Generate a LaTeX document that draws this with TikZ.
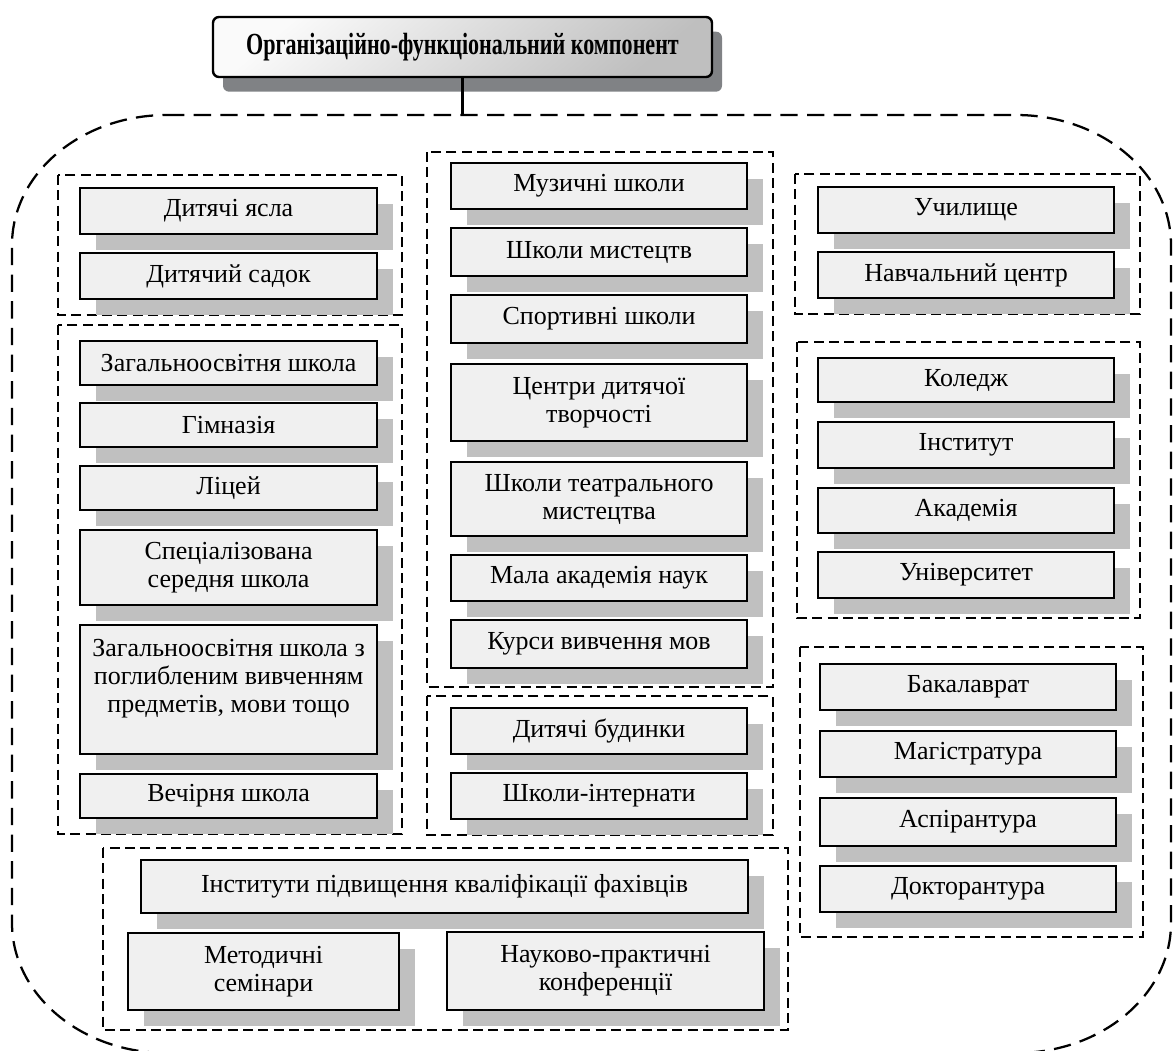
\documentclass[tikz,border=0pt]{standalone}
\usepackage{fontspec}
\setmainfont{Liberation Serif}
\newfontfamily\headfont[FakeStretch=0.72]{Liberation Serif}
\usetikzlibrary{shadows}

\definecolor{boxfill}{RGB}{240,240,240}
\definecolor{boxshade}{RGB}{192,192,192}
\definecolor{headshade}{RGB}{128,130,133}

\tikzset{
  unit/.style={draw, line width=1.6pt, fill=boxfill, anchor=north west, inner sep=0.75pt, align=center,
    font=\fontsize{19.5}{21}\selectfont, minimum height=34.5pt,
    general shadow={fill=boxshade, shadow xshift=12pt, shadow yshift=-12pt}},
  unitl/.style={unit, minimum width=222.75pt},
  unitm/.style={unit, minimum width=222pt},
  group/.style={line width=1.3pt, dash pattern=on 7.5pt off 4pt},
  outline/.style={line width=1.7pt, dash pattern=on 13pt off 7pt},
  head/.style={draw, line width=1.8pt, rounded corners=4.5pt, minimum width=374.25pt, minimum height=45pt,
    top color=gray!4, bottom color=gray!50, shading angle=40,
    font=\headfont\fontsize{23}{25}\selectfont\bfseries,
    general shadow={fill=headshade, shadow xshift=7.5pt, shadow yshift=-11pt}}
}

\begin{document}
\begin{tikzpicture}[x=0.75pt,y=0.75pt,yscale=-1,xscale=1]
\useasboundingbox (0,0) rectangle (1173,1050);

%Shape: Rounded Rectangle
\draw[outline] (167,115) -- (1016,115) .. controls (1101.6,115) and (1171,173.2) .. (1171,245) -- (1171,923) .. controls (1171,994.8) and (1101.6,1053) .. (1016,1053) -- (167,1053) .. controls (81.4,1053) and (12,994.8) .. (12,923) -- (12,245) .. controls (12,173.2) and (81.4,115) .. (167,115) -- cycle ;
\coordinate (outtop) at (462.5,115);

%Shape: Rectangle
\draw[group] (58,175) rectangle (402,315) ;
\draw[group] (58,325) rectangle (402,834) ;
\draw[group] (427,152) rectangle (773,687) ;
\draw[group] (427,696) rectangle (773,835) ;
\draw[group] (795,174) rectangle (1140,314) ;
\draw[group] (797,342) rectangle (1140,618) ;
\draw[group] (800,647) rectangle (1143,937) ;
\draw[group] (103,848) rectangle (788,1030) ;

% Text Node
\node[head] (comp) at (462.5,47) {Організаційно-функціональний компонент};
%Straight Lines
\draw[line width=1.9pt] (comp.south) -- (outtop) ;

% Text Node
\node[unitl] (yasla) at (79,187) {Дитячі ясла};
\node[unitl] (sadok) at (79,252) {Дитячий садок};
\node[unitl, minimum height=33pt] (zosh) at (79,340) {Загальноосвітня школа};
\node[unitl, minimum height=33pt] (gimn) at (79,402) {Гімназія};
\node[unitl, minimum height=33pt] (litsei) at (79,465) {Ліцей};
\node[unitl, minimum height=56.25pt] (spets) at (79,529) {Спеціалізована\\середня школа};
\node[unitl, minimum height=96.75pt] (poglyb) at (79,624) {Загальноосвітня школа з\\поглибленим вивченням\\предметів, мови тощо\\\mbox{}};
\node[unitl, minimum height=33pt] (vechir) at (79,773) {Вечірня школа};

% Text Node
\node[unitm] (muz) at (450,162) {Музичні школи};
\node[unitm, minimum height=36pt] (myst) at (450,227) {Школи мистецтв};
\node[unitm, minimum height=36pt] (sport) at (450,294) {Спортивні школи};
\node[unitm, minimum height=57.75pt] (tsentr) at (450,363) {Центри дитячої\\творчості};
\node[unitm, minimum height=55.5pt] (teatr) at (450,461) {Школи театрального\\мистецтва};
\node[unitm] (mala) at (450,554) {Мала академія наук};
\node[unitm, minimum height=36pt] (kursy) at (450,619) {Курси вивчення мов};
\node[unitm] (budynky) at (450,707) {Дитячі будинки};
\node[unitm] (internaty) at (450,772) {Школи-інтернати};

% Text Node
\node[unitm] (uchyl) at (817,186) {Училище};
\node[unitm] (navch) at (817,251) {Навчальний центр};
\node[unitm, minimum height=33pt] (koledzh) at (817,357) {Коледж};
\node[unitm] (instyt) at (817,421) {Інститут};
\node[unitm, minimum height=33.75pt] (akad) at (817,487) {Академія};
\node[unitm] (univ) at (817,551) {Університет};
\node[unitm] (bakal) at (819,663) {Бакалаврат};
\node[unitm] (magistr) at (819,730) {Магістратура};
\node[unitm, minimum height=36pt] (aspir) at (819,797) {Аспірантура};
\node[unitm] (doktor) at (819,865) {Докторантура};

% Text Node
\node[unit, minimum width=455.25pt, minimum height=39.75pt] (ipk) at (140,859) {Інститути підвищення кваліфікації фахівців};
\node[unit, minimum width=203.25pt, minimum height=57.75pt] (metod) at (127,932) {Методичні\\семінари};
\node[unit, minimum width=237.75pt, minimum height=58.5pt] (nauk) at (446,931) {Науково-практичні\\конференції};

\end{tikzpicture}
\end{document}
